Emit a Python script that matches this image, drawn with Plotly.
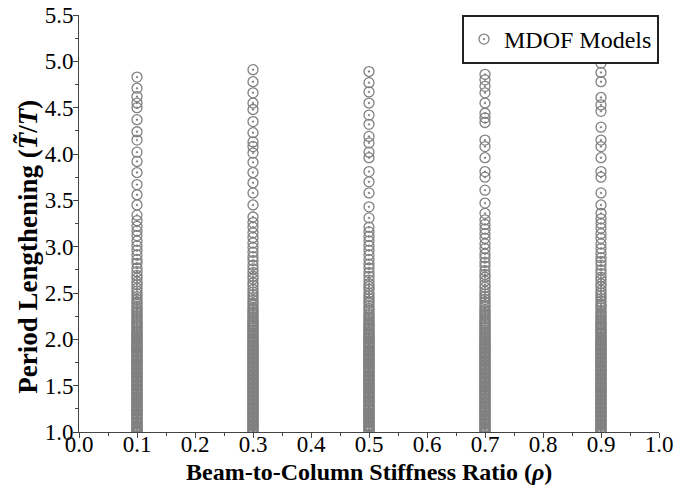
import plotly.graph_objects as go

ratios = [0.1, 0.3, 0.5, 0.7, 0.9]

col_01 = [1.00, 1.01, 1.02, 1.04, 1.05, 1.06, 1.07, 1.09, 1.10, 1.11, 1.13, 1.14, 1.15, 1.16, 1.18, 1.19, 1.20,
          1.22, 1.23, 1.24, 1.25, 1.27, 1.28, 1.29, 1.31, 1.32, 1.33, 1.34, 1.36, 1.37, 1.38, 1.40, 1.41, 1.42,
          1.43, 1.45, 1.46, 1.47, 1.49, 1.50, 1.51, 1.52, 1.54, 1.55, 1.56, 1.58, 1.59, 1.60, 1.61, 1.63, 1.64,
          1.65, 1.67, 1.68, 1.69, 1.70, 1.72, 1.73, 1.74, 1.76, 1.77, 1.78, 1.79, 1.81, 1.82, 1.83, 1.85, 1.86,
          1.87, 1.88, 1.90, 1.91, 1.92, 1.94, 1.95, 1.96, 1.97, 1.99,
          2.00, 2.02, 2.03, 2.05, 2.06, 2.08, 2.09, 2.11, 2.13, 2.14, 2.16, 2.18, 2.19, 2.21, 2.23, 2.25, 2.27,
          2.29, 2.31, 2.33, 2.35, 2.38, 2.40, 2.43, 2.46, 2.49, 2.52, 2.55, 2.59, 2.62, 2.66, 2.69, 2.73, 2.77,
          2.82, 2.86, 2.91, 2.96, 3.01, 3.06, 3.12, 3.17, 3.22, 3.28, 3.34,
          3.45, 3.56, 3.67, 3.80, 3.92, 4.02, 4.15, 4.24, 4.37, 4.50, 4.55, 4.62, 4.71, 4.83]

col_03 = [1.00, 1.02, 1.03, 1.04, 1.06, 1.07, 1.08, 1.09, 1.11, 1.12, 1.13, 1.15, 1.16, 1.17, 1.18, 1.20, 1.21,
          1.22, 1.24, 1.25, 1.26, 1.27, 1.29, 1.30, 1.31, 1.33, 1.34, 1.35, 1.36, 1.38, 1.39, 1.40, 1.42, 1.43,
          1.44, 1.45, 1.47, 1.48, 1.49, 1.51, 1.52, 1.53, 1.54, 1.56, 1.57, 1.58, 1.60, 1.61, 1.62, 1.63, 1.65,
          1.66, 1.67, 1.69, 1.70, 1.71, 1.72, 1.74, 1.75, 1.76, 1.78, 1.79, 1.80, 1.81, 1.83, 1.84, 1.85, 1.87,
          1.88, 1.89, 1.90, 1.92, 1.93, 1.94, 1.96, 1.97, 1.98,
          2.00, 2.01, 2.03, 2.04, 2.06, 2.07, 2.09, 2.10, 2.12, 2.14, 2.15, 2.17, 2.19, 2.20, 2.22, 2.24, 2.26,
          2.28, 2.30, 2.32, 2.34, 2.37, 2.39, 2.42, 2.45, 2.48, 2.51, 2.54, 2.58, 2.61, 2.65, 2.68, 2.72, 2.76,
          2.80, 2.85, 2.89, 2.94, 2.99, 3.04, 3.10, 3.15, 3.21, 3.26, 3.32,
          3.45, 3.58, 3.69, 3.80, 3.91, 4.01, 4.08, 4.13, 4.23, 4.35, 4.48, 4.55, 4.66, 4.78, 4.91]

col_05 = [1.01, 1.02, 1.03, 1.05, 1.06, 1.07, 1.08, 1.10, 1.11, 1.12, 1.14, 1.15, 1.16, 1.17, 1.19, 1.20, 1.21,
          1.23, 1.24, 1.25, 1.26, 1.28, 1.29, 1.30, 1.32, 1.33, 1.34, 1.35, 1.37, 1.38, 1.39, 1.41, 1.42, 1.43,
          1.44, 1.46, 1.47, 1.48, 1.50, 1.51, 1.52, 1.53, 1.55, 1.56, 1.57, 1.59, 1.60, 1.61, 1.62, 1.64, 1.65,
          1.66, 1.68, 1.69, 1.70, 1.71, 1.73, 1.74, 1.75, 1.77, 1.78, 1.79, 1.80, 1.82, 1.83, 1.84, 1.86, 1.87,
          1.88, 1.89, 1.91, 1.92, 1.93, 1.95, 1.96, 1.97, 1.98,
          2.00, 2.01, 2.02, 2.04, 2.05, 2.07, 2.08, 2.10, 2.11, 2.13, 2.15, 2.16, 2.18, 2.20, 2.22, 2.24, 2.26,
          2.28, 2.31, 2.33, 2.36, 2.39, 2.41, 2.44, 2.47, 2.50, 2.54, 2.57, 2.60, 2.64, 2.68, 2.72, 2.77, 2.81,
          2.86, 2.91, 2.96, 3.01, 3.06, 3.11, 3.16, 3.21, 3.31,
          3.43, 3.58, 3.70, 3.81, 3.96, 4.02, 4.12, 4.19, 4.32, 4.42, 4.55, 4.67, 4.77, 4.89]

col_07 = [1.00, 1.01, 1.03, 1.04, 1.05, 1.06, 1.08, 1.09, 1.10, 1.12, 1.13, 1.14, 1.15, 1.17, 1.18, 1.19, 1.21,
          1.22, 1.23, 1.24, 1.26, 1.27, 1.28, 1.30, 1.31, 1.32, 1.33, 1.35, 1.36, 1.37, 1.39, 1.40, 1.41, 1.42,
          1.44, 1.45, 1.46, 1.48, 1.49, 1.50, 1.51, 1.53, 1.54, 1.55, 1.57, 1.58, 1.59, 1.60, 1.62, 1.63, 1.64,
          1.66, 1.67, 1.68, 1.69, 1.71, 1.72, 1.73, 1.75, 1.76, 1.77, 1.78, 1.80, 1.81, 1.82, 1.84, 1.85, 1.86,
          1.87, 1.89, 1.90, 1.91, 1.93, 1.94, 1.95, 1.96, 1.98, 1.99,
          2.01, 2.02, 2.04, 2.05, 2.07, 2.08, 2.10, 2.12, 2.13, 2.15, 2.17, 2.18, 2.20, 2.22, 2.24, 2.26, 2.28,
          2.30, 2.32, 2.35, 2.37, 2.40, 2.43, 2.46, 2.49, 2.52, 2.56, 2.59, 2.63, 2.67, 2.70, 2.74, 2.79, 2.83,
          2.88, 2.92, 2.98, 3.03, 3.09, 3.14, 3.19, 3.24,
          3.29, 3.36, 3.47, 3.61, 3.75, 3.81, 3.96, 4.08, 4.15, 4.34, 4.39, 4.44, 4.55, 4.66, 4.73, 4.80, 4.86]

col_09 = [1.00, 1.02, 1.03, 1.04, 1.05, 1.07, 1.08, 1.09, 1.11, 1.12, 1.13, 1.14, 1.16, 1.17, 1.18, 1.20, 1.21,
          1.22, 1.23, 1.25, 1.26, 1.27, 1.29, 1.30, 1.31, 1.32, 1.34, 1.35, 1.36, 1.38, 1.39, 1.40, 1.41, 1.43,
          1.44, 1.45, 1.47, 1.48, 1.49, 1.50, 1.52, 1.53, 1.54, 1.56, 1.57, 1.58, 1.59, 1.61, 1.62, 1.63, 1.65,
          1.66, 1.67, 1.68, 1.70, 1.71, 1.72, 1.74, 1.75, 1.76, 1.77, 1.79, 1.80, 1.81, 1.83, 1.84, 1.85, 1.86,
          1.88, 1.89, 1.90, 1.92, 1.93, 1.94, 1.95, 1.97, 1.98, 1.99,
          2.00, 2.02, 2.03, 2.05, 2.06, 2.08, 2.09, 2.11, 2.12, 2.14, 2.16, 2.17, 2.19, 2.21, 2.23, 2.25, 2.27,
          2.29, 2.31, 2.34, 2.36, 2.38, 2.41, 2.44, 2.47, 2.50, 2.53, 2.57, 2.60, 2.64, 2.67, 2.71, 2.75, 2.80,
          2.84, 2.88, 2.93, 2.98, 3.03, 3.09, 3.14, 3.20, 3.25, 3.30,
          3.36, 3.45, 3.58, 3.75, 3.81, 3.96, 4.08, 4.15, 4.29, 4.46, 4.53, 4.61, 4.78, 4.88, 4.98]

columns = [col_01, col_03, col_05, col_07, col_09]

x_ticks = [0.0, 0.1, 0.2, 0.3, 0.4, 0.5, 0.6, 0.7, 0.8, 0.9, 1.0]
y_ticks = [1.0, 1.5, 2.0, 2.5, 3.0, 3.5, 4.0, 4.5, 5.0, 5.5]

xs, ys = [], []
for r, col in zip(ratios, columns):
    xs.extend([r] * len(col))
    ys.extend(col)

SERIF = "Liberation Serif, Times New Roman, serif"
AXC = "#444444"

fig = go.Figure()
fig.add_trace(go.Scatter(
    x=xs, y=ys, mode="markers", name="MDOF Models",
    marker=dict(symbol="circle-open-dot", size=10, color="#808080", line=dict(width=1.3, color="#808080")),
))

fig.update_layout(
    width=675, height=486,
    margin=dict(l=79, r=16, t=15, b=54, autoexpand=False),
    paper_bgcolor="white", plot_bgcolor="white",
    showlegend=True,
    legend=dict(x=1.0, y=1.0, xanchor="right", yanchor="top",
                bgcolor="white", bordercolor="#222222", borderwidth=2,
                font=dict(family=SERIF, size=24, color="black"),
                itemwidth=30),
    font=dict(family=SERIF, color="black"),
)

fig.update_xaxes(
    range=[0, 1], tickvals=x_ticks, ticktext=[f"{v:.1f}" for v in x_ticks],
    showgrid=False, zeroline=False, showline=True, linecolor=AXC, linewidth=1,
    ticks="outside", ticklen=5, tickcolor=AXC, tickwidth=1, ticklabelstandoff=-14,
    ticklabeloverflow="allow", automargin=False,
    tickfont=dict(family=SERIF, size=23, color="black"),
    minor=dict(ticks="outside", ticklen=3, dtick=0.05, tick0=0, tickcolor=AXC, showgrid=False),
)
fig.update_yaxes(
    range=[1, 5.5], tickvals=y_ticks, ticktext=[f"{v:.1f}" for v in y_ticks],
    showgrid=False, zeroline=False, showline=True, linecolor=AXC, linewidth=1,
    ticks="outside", ticklen=5, tickcolor=AXC, tickwidth=1, ticklabelstandoff=-5,
    ticklabeloverflow="allow", automargin=False,
    tickfont=dict(family=SERIF, size=23, color="black"),
    minor=dict(ticks="outside", ticklen=3, dtick=0.25, tick0=1, tickcolor=AXC, showgrid=False),
)

fig.add_annotation(
    text="<b>Beam-to-Column Stiffness Ratio (<i>ρ</i>)</b>",
    xref="paper", yref="paper", x=0.5, y=-0.095, xanchor="center", yanchor="middle",
    showarrow=False, font=dict(family=SERIF, size=24, color="black"),
)
fig.add_annotation(
    text="<b>Period Lengthening (<i>T\u0303</i>/<i>T</i>)</b>",
    xref="paper", yref="paper", x=-0.088, y=0.444, xanchor="center", yanchor="middle",
    textangle=-90, showarrow=False, font=dict(family=SERIF, size=27, color="black"),
)

fig.write_html("out.html")
